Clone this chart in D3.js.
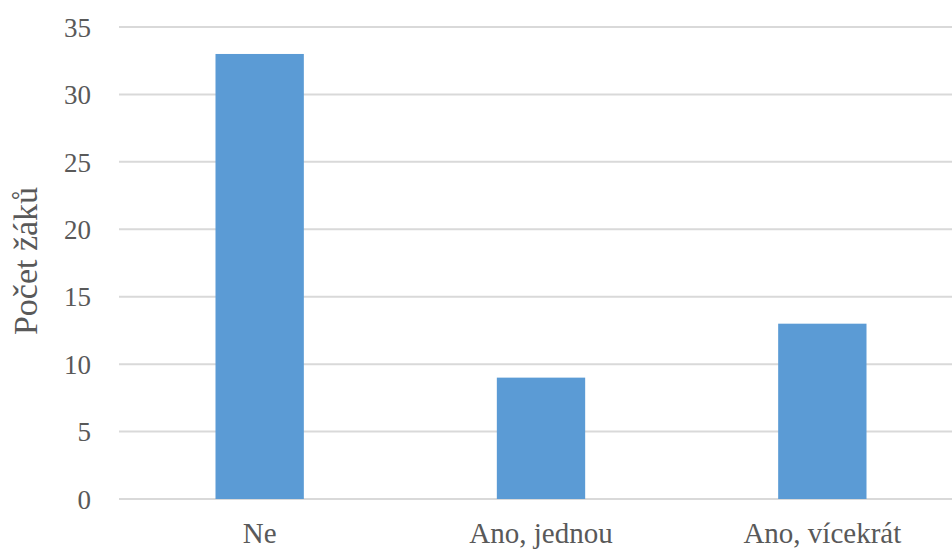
<!DOCTYPE html>
<html>
<head>
<meta charset="utf-8">
<script src="https://cdn.jsdelivr.net/npm/d3@7"></script>
<style>
  html, body { margin: 0; padding: 0; background: #fff; }
  svg { display: block; }
</style>
</head>
<body>
<svg id="chart" width="952" height="549"></svg>
<script>
// Survey answers and number of pupils per answer
const categories = ["Ne", "Ano, jednou", "Ano, vícekrát"];
const counts = [33, 9, 13];
const yTicks = [0, 5, 10, 15, 20, 25, 30, 35];
const yTitle = "Počet žáků";

const svg = d3.select("#chart");
const serif = '"Liberation Serif", serif';
const textColor = "#595959";

// Apply the serif face and size to a text selection
function setFont(sel, size) {
  sel.each(function () {
    this.style.setProperty("font-family", serif, "important");
    this.style.setProperty("font-size", size + "px", "important");
  });
}

const plot = { left: 119, right: 963, top: 27, bottom: 499 };

const x = d3.scaleBand()
  .domain(categories)
  .range([plot.left, plot.right])
  .paddingInner(0.686)
  .paddingOuter(0.343);

const y = d3.scaleLinear()
  .domain([0, 35])
  .range([plot.bottom, plot.top]);

// Horizontal gridlines
svg.append("g")
  .selectAll("line")
  .data(yTicks)
  .join("line")
  .attr("x1", plot.left)
  .attr("x2", plot.right)
  .attr("y1", d => y(d))
  .attr("y2", d => y(d))
  .attr("stroke", "#d9d9d9")
  .attr("stroke-width", 2);

// Bars
svg.append("g")
  .selectAll("rect")
  .data(counts)
  .join("rect")
  .attr("x", (d, i) => x(categories[i]))
  .attr("width", x.bandwidth())
  .attr("y", d => y(d))
  .attr("height", d => y(0) - y(d))
  .attr("fill", "#5b9bd5");

// Y axis tick labels
const yAxis = d3.axisLeft(y).tickValues(yTicks).tickSize(0).tickPadding(0);
const gy = svg.append("g")
  .attr("transform", `translate(91,0)`)
  .call(yAxis)
  .attr("font-family", serif);
gy.select(".domain").remove();
gy.selectAll("text")
  .attr("fill", textColor)
  .attr("dy", "0.34em")
  .call(setFont, 27);

// Category labels
const xAxis = d3.axisBottom(x).tickSize(0).tickPadding(0);
const gx = svg.append("g")
  .attr("transform", `translate(0,543)`)
  .call(xAxis)
  .attr("font-family", serif);
gx.select(".domain").remove();
gx.selectAll("text")
  .attr("fill", textColor)
  .attr("dy", 0)
  .attr("y", 0)
  .call(setFont, 29);

// Y axis title
svg.append("text")
  .attr("transform", `translate(37,261) rotate(-90)`)
  .attr("text-anchor", "middle")
  .attr("fill", textColor)
  .text(yTitle)
  .call(setFont, 34);
</script>
</body>
</html>
